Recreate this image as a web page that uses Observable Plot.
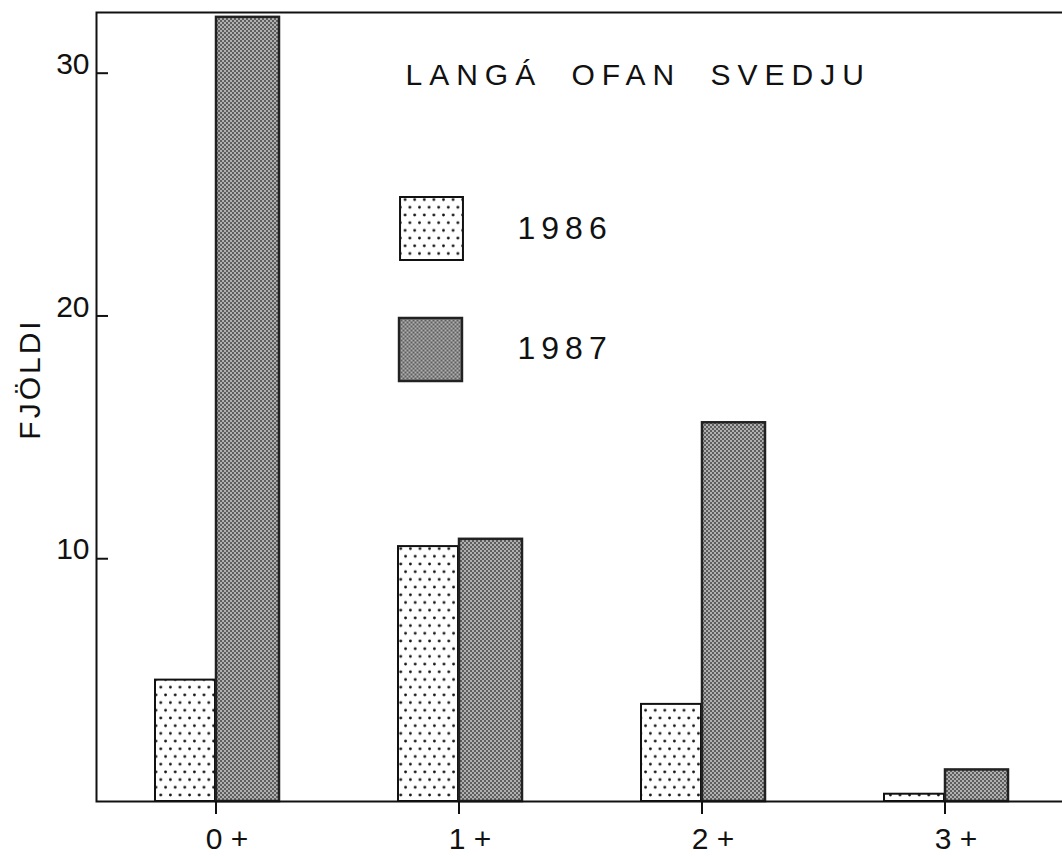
<!DOCTYPE html>
<html><head><meta charset="utf-8">
<script src="https://cdn.jsdelivr.net/npm/d3@7"></script>
<script src="https://cdn.jsdelivr.net/npm/@observablehq/plot@0.6"></script>
<style>
body{margin:0;background:#fff;}
svg{display:block;}
</style></head><body><div id="chart"></div>
<script>
const categories = ["0 +", "1 +", "2 +", "3 +"];
const years = ["1986", "1987"];
const values1986 = [5, 10.5, 4, 0.3];
const values1987 = [32.3, 10.8, 15.6, 1.3];
const yTicks = [10, 20, 30];
const title = "LANGÁ OFAN SVEDJU";
const yLabel = "FJÖLDI";

const rows1986 = categories.map((c, i) => ({category: c, year: years[0], value: values1986[i]}));
const rows1987 = categories.map((c, i) => ({category: c, year: years[1], value: values1987[i]}));
const fills = {"1986": "url(#dots)", "1987": "url(#stipple)"};
const font = "Liberation Sans, Arial, sans-serif";

const chart = Plot.plot({
  width: 1062, height: 856,
  marginLeft: 96, marginRight: -3, marginTop: 12, marginBottom: 55,
  style: {fontFamily: font, background: "#fff", color: "#111"},
  x: {type: "band", domain: categories, range: [92, 1067], padding: 0, axis: null},
  y: {domain: [0, 32.5], axis: null},
  marks: [
    Plot.barY(rows1986, {x: "category", y: "value", fill: fills["1986"], stroke: "#111", strokeWidth: 2, insetLeft: 61, insetRight: 122}),
    Plot.barY(rows1987, {x: "category", y: "value", fill: fills["1987"], stroke: "#222", strokeWidth: 2.5, insetLeft: 122, insetRight: 58}),
    Plot.frame({stroke: "#111", strokeWidth: 2}),
    Plot.axisY({ticks: yTicks, tickSize: -12, tickFormat: () => "", label: null, strokeWidth: 2, stroke: "#111"}),
    Plot.axisY({ticks: yTicks, tickSize: 0, tickPadding: 7, dy: -9, fontSize: 30, label: null}),
    Plot.axisX({tickSize: 13, tickFormat: () => "", label: null, strokeWidth: 2, stroke: "#111"}),
    Plot.axisX({tickSize: 0, tickPadding: 26, dx: 11, fontSize: 30, label: null}),
    Plot.text([title], {text: d => d, frameAnchor: "top-left", dx: 309, dy: 63, textAnchor: "start", lineAnchor: "middle", fontSize: 30, fill: "#111"}),
    Plot.text([yLabel], {text: d => d, frameAnchor: "left", dx: -66, dy: -28, rotate: -90, textAnchor: "middle", lineAnchor: "middle", fontSize: 30, fill: "#111"}),
    Plot.dot([years[0]], {frameAnchor: "top-left", dx: 335, dy: 216, symbol: "square", r: 35.5, fill: fills["1986"], stroke: "#111", strokeWidth: 2}),
    Plot.dot([years[1]], {frameAnchor: "top-left", dx: 334, dy: 337, symbol: "square", r: 35.5, fill: fills["1987"], stroke: "#222", strokeWidth: 2.5}),
    Plot.text([years[0]], {text: d => d, frameAnchor: "top-left", dx: 421, dy: 216, textAnchor: "start", lineAnchor: "middle", fontSize: 32, fill: "#111"}),
    Plot.text([years[1]], {text: d => d, frameAnchor: "top-left", dx: 421, dy: 336, textAnchor: "start", lineAnchor: "middle", fontSize: 32, fill: "#111"})
  ]
});

const svg = d3.select(chart);
svg.selectAll("text").each(function() {
  const t = d3.select(this).text();
  if (t === title) d3.select(this).style("letter-spacing", "7px").style("word-spacing", "14px");
  else if (t === yLabel) d3.select(this).style("letter-spacing", "3px");
  else if (years.includes(t)) d3.select(this).style("letter-spacing", "6px");
});

const defs = svg.insert("defs", ":first-child");
const pd = defs.append("pattern").attr("id", "dots").attr("patternUnits", "userSpaceOnUse")
  .attr("width", 9.6).attr("height", 15.4);
pd.append("rect").attr("width", 9.6).attr("height", 15.4).attr("fill", "#fff");
pd.append("circle").attr("cx", 2.4).attr("cy", 2).attr("r", 1.4).attr("fill", "#111");
pd.append("circle").attr("cx", 7.2).attr("cy", 9.7).attr("r", 1.4).attr("fill", "#111");
const ps = defs.append("pattern").attr("id", "stipple").attr("patternUnits", "userSpaceOnUse")
  .attr("width", 4).attr("height", 4);
ps.append("rect").attr("width", 4).attr("height", 4).attr("fill", "#b0b0b0");
ps.append("rect").attr("x", 0).attr("y", 0).attr("width", 2).attr("height", 2).attr("fill", "#5e5e5e");
ps.append("rect").attr("x", 2).attr("y", 2).attr("width", 2).attr("height", 2).attr("fill", "#5e5e5e");

document.getElementById("chart").appendChild(chart);
</script></body></html>
